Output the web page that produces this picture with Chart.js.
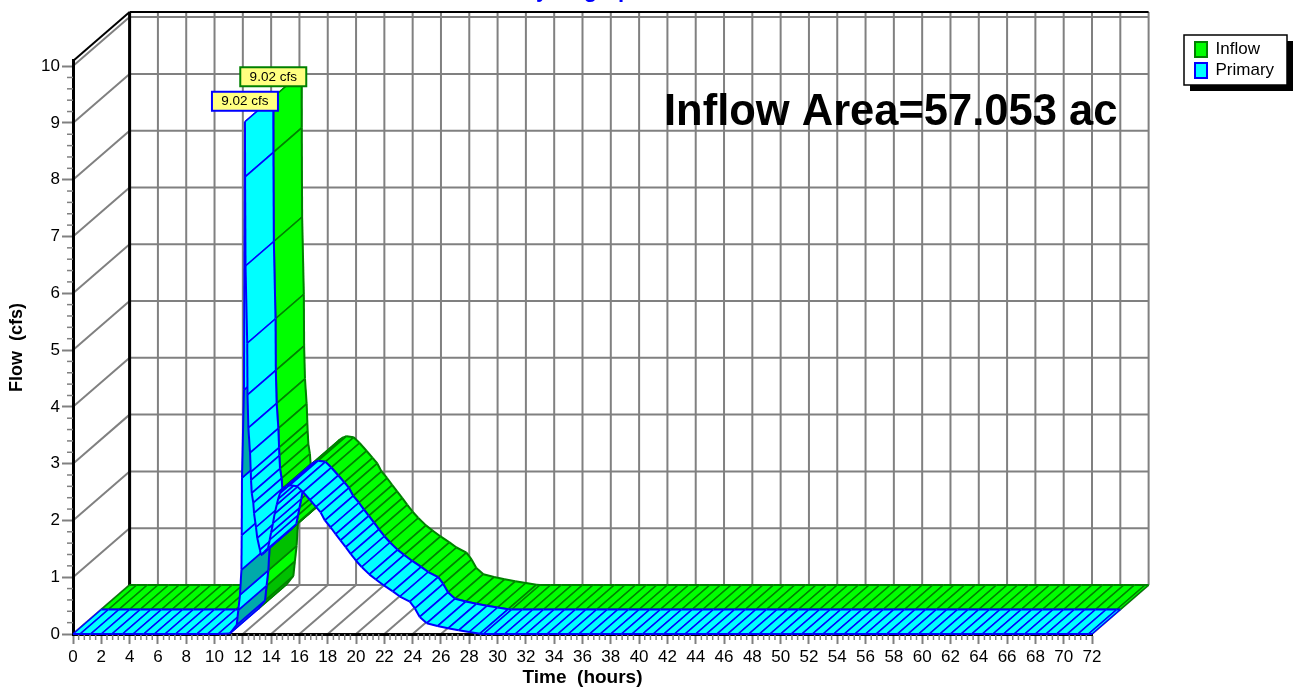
<!DOCTYPE html>
<html>
<head>
<meta charset="utf-8">
<title>Hydrograph</title>
<script src="https://cdn.jsdelivr.net/npm/chart.js@4/dist/chart.umd.js"></script>
<style>
  html, body { margin: 0; padding: 0; background: #fff; overflow: hidden; }
  canvas { display: block; }
</style>
</head>
<body>
<canvas id="hydrograph" width="1294" height="689"></canvas>
<script>
// one entry per hatch line along the ribbon
const timeHours = [
  0, 0.5, 1.25, 2, 2.75, 3.5, 4.25, 5, 5.75, 6.5, 7.25, 8, 8.75, 9.5, 10.25,
  11.09, 11.57, 11.68, 11.8, 11.9, 11.92, 11.94, 12.08, 12.15,
  12.16, 12.19, 12.31, 12.33, 12.39, 12.51, 12.56, 12.58, 12.63, 12.74, 12.79, 12.93, 13.02, 13.21, 13.28,
  13.4, 13.55, 13.78, 13.9, 14, 14.13, 14.25, 14.4, 14.5, 14.63, 14.85, 15.1, 15.33,
  15.83, 16.25, 16.75, 17.17, 17.5, 17.8, 18.2, 18.56, 18.9, 19.27, 19.62, 20, 20.4, 20.94, 21.4, 21.97, 22.6,
  23.1, 23.8, 24.16, 24.5, 25, 25.75, 26.5, 27.25, 28, 28.75,
  29, 29.75, 30.5, 31.25, 32, 32.75, 33.5, 34.25, 35, 35.75, 36.5, 37.25, 38, 38.75, 39.5, 40.25, 41, 41.75,
  42.5, 43.25, 44, 44.75, 45.5, 46.25, 47, 47.75, 48.5, 49.25, 50, 50.75, 51.5, 52.25, 53, 53.75, 54.5, 55.25,
  56, 56.75, 57.5, 58.25, 59, 59.75, 60.5, 61.25, 62, 62.75, 63.5, 64.25, 65, 65.75, 66.5, 67.25, 68, 68.75,
  69.5, 70.25, 71, 71.75, 72
];
const inflowFlow = [
  0, 0, 0, 0, 0, 0, 0, 0, 0, 0, 0, 0, 0, 0, 0,
  0.01, 0.16, 0.42, 0.69, 1.13, 1.74, 2.75, 4.3, 9.02,
  8.05, 6.48, 5.12, 4.21, 3.63, 3.19, 2.85, 2.71, 2.48, 2.31, 2.13, 1.88, 1.69, 1.48, 1.39,
  1.41, 1.45, 1.51, 1.66, 1.79, 1.95, 2.12, 2.28, 2.38, 2.48, 2.56, 2.6, 2.62,
  2.6, 2.5, 2.36, 2.24, 2.14, 2, 1.88, 1.76, 1.65, 1.53, 1.41, 1.29, 1.18, 1.05, 0.96, 0.855, 0.75,
  0.66, 0.57, 0.45, 0.3, 0.19, 0.14, 0.1, 0.065, 0.035, 0.005,
  0, 0, 0, 0, 0, 0, 0, 0, 0, 0, 0, 0, 0, 0, 0, 0, 0, 0,
  0, 0, 0, 0, 0, 0, 0, 0, 0, 0, 0, 0, 0, 0, 0, 0, 0, 0,
  0, 0, 0, 0, 0, 0, 0, 0, 0, 0, 0, 0, 0, 0, 0, 0, 0, 0,
  0, 0, 0, 0, 0
];
const primaryFlow = [
  0, 0, 0, 0, 0, 0, 0, 0, 0, 0, 0, 0, 0, 0, 0,
  0.01, 0.16, 0.42, 0.69, 1.13, 1.74, 2.75, 4.3, 9.02,
  8.05, 6.48, 5.12, 4.21, 3.63, 3.19, 2.85, 2.71, 2.48, 2.31, 2.13, 1.88, 1.69, 1.48, 1.39,
  1.41, 1.45, 1.51, 1.66, 1.79, 1.95, 2.12, 2.28, 2.38, 2.48, 2.56, 2.6, 2.62,
  2.6, 2.5, 2.36, 2.24, 2.14, 2, 1.88, 1.76, 1.65, 1.53, 1.41, 1.29, 1.18, 1.05, 0.96, 0.855, 0.75,
  0.66, 0.57, 0.45, 0.3, 0.19, 0.14, 0.1, 0.065, 0.035, 0.005,
  0, 0, 0, 0, 0, 0, 0, 0, 0, 0, 0, 0, 0, 0, 0, 0, 0, 0,
  0, 0, 0, 0, 0, 0, 0, 0, 0, 0, 0, 0, 0, 0, 0, 0, 0, 0,
  0, 0, 0, 0, 0, 0, 0, 0, 0, 0, 0, 0, 0, 0, 0, 0, 0, 0,
  0, 0, 0, 0, 0
];
// ribbon sections that start at these times are in the darker shade
const shadedTimes = [11.09, 11.57, 11.8, 11.94];
const seriesNames = ['Inflow', 'Primary'];
const areaLabel = 'Inflow Area=57.053 ac';

// a unit of depth moves a point this far along the scales
const DEPTH_HOURS = 2;
const DEPTH_FLOW = 0.4315;
const GREY = '#808080';

const ribbonStyles = [
  { depth: 1, fill: '#00ff00', dark: '#00c000', line: '#008000' },
  { depth: 0, fill: '#00ffff', dark: '#00aaaa', line: '#0000ff' }
];

function segment(ctx, x1, y1, x2, y2, color, width) {
  ctx.strokeStyle = color;
  ctx.lineWidth = width;
  ctx.beginPath();
  ctx.moveTo(x1, y1);
  ctx.lineTo(x2, y2);
  ctx.stroke();
}

function drawFlag(ctx, chart, text, t, q, depth, color) {
  const { x, y } = chart.scales;
  const cx = x.getPixelForValue(t + depth * DEPTH_HOURS);
  const cy = y.getPixelForValue(q + depth * DEPTH_FLOW) - 20.5;
  ctx.fillStyle = '#ffff80';
  ctx.strokeStyle = color;
  ctx.lineWidth = 2;
  ctx.fillRect(cx - 33, cy - 9.5, 66, 19);
  ctx.strokeRect(cx - 33, cy - 9.5, 66, 19);
  ctx.fillStyle = '#000';
  ctx.font = '13.5px "Liberation Sans"';
  ctx.textAlign = 'center';
  ctx.textBaseline = 'middle';
  ctx.fillText(text, cx, cy + 0.5);
}

const hydroPlugin = {
  id: 'hydro',
  afterLayout(chart) {
    // the key sits off to the right, clear of the plot
    const lg = chart.legend;
    const w = lg.right - lg.left;
    const h = lg.bottom - lg.top;
    lg.left = 1191;
    lg.right = lg.left + w;
    lg.top = 37;
    lg.bottom = lg.top + h;
    lg.adjustHitBoxes();
  },
  beforeDraw(chart) {
    const { ctx, scales: { x, y } } = chart;
    const backX = v => x.getPixelForValue(v + 2 * DEPTH_HOURS);
    const backY = v => y.getPixelForValue(v + 2 * DEPTH_FLOW);
    const top = y.max;
    ctx.save();

    // key frame with its drop shadow
    ctx.fillStyle = '#000';
    ctx.fillRect(1190, 41, 103, 50);
    ctx.fillStyle = '#fff';
    ctx.fillRect(1184, 35, 103, 50);
    ctx.strokeStyle = '#000';
    ctx.lineWidth = 1.5;
    ctx.strokeRect(1184, 35, 103, 50);

    // back wall and floor
    x.ticks.forEach(t => {
      segment(ctx, backX(t.value), backY(top), backX(t.value), backY(0), GREY, 2);
      segment(ctx, x.getPixelForValue(t.value), y.getPixelForValue(0), backX(t.value), backY(0), GREY, 2);
    });
    // side wall
    y.ticks.forEach(t => {
      segment(ctx, backX(0), backY(t.value), backX(72), backY(t.value), GREY, 2);
      segment(ctx, x.getPixelForValue(0), y.getPixelForValue(t.value), backX(0), backY(t.value), GREY, 2);
    });
    segment(ctx, backX(0), backY(top), backX(72), backY(top), '#000', 2);
    segment(ctx, x.getPixelForValue(0), y.getPixelForValue(top), backX(0), backY(top), '#000', 2);
    segment(ctx, backX(0), backY(top), backX(0), backY(0), '#000', 3);

    ctx.fillStyle = '#000';
    ctx.font = 'bold 43.5px "Liberation Sans"';
    ctx.textAlign = 'left';
    ctx.textBaseline = 'alphabetic';
    ctx.fillText(areaLabel, 664, 125);
    ctx.restore();
  },
  beforeDatasetsDraw(chart) {
    const { ctx, scales: { x, y } } = chart;
    ctx.save();

    // minor ticks
    const x0 = y.getPixelForValue(0);
    const left = x.getPixelForValue(0);
    for (let k = 0; k < 180; k++) {
      if (k % 5) {
        const px = x.getPixelForValue(k * 0.4);
        segment(ctx, px, x0, px, x0 + 6, GREY, 1.5);
      }
    }
    for (let k = 0; k < 50; k++) {
      if (k % 5) {
        const py = y.getPixelForValue(k * 0.2);
        segment(ctx, left, py, left - 6, py, GREY, 1.5);
      }
    }

    // ribbons, back one first and each from early to late so later faces cover earlier ones
    ctx.lineJoin = 'round';
    chart.data.datasets.forEach((ds, n) => {
      const st = ribbonStyles[n];
      const px = (p, d) => x.getPixelForValue(p.x + d * DEPTH_HOURS);
      const py = (p, d) => y.getPixelForValue(p.y + d * DEPTH_FLOW);
      const d0 = st.depth;
      const d1 = st.depth + 1;
      const pts = ds.data;
      for (let i = 0; i < pts.length - 1; i++) {
        const a = pts[i];
        const b = pts[i + 1];
        const color = shadedTimes.includes(a.x) ? st.dark : st.fill;
        ctx.fillStyle = color;
        ctx.strokeStyle = color;
        ctx.lineWidth = 0.5;
        ctx.beginPath();
        ctx.moveTo(px(a, d0), py(a, d0));
        ctx.lineTo(px(b, d0), py(b, d0));
        ctx.lineTo(px(b, d1), py(b, d1));
        ctx.lineTo(px(a, d1), py(a, d1));
        ctx.closePath();
        ctx.fill();
        ctx.stroke();
        segment(ctx, px(a, d0), py(a, d0), px(a, d1), py(a, d1), st.line, 1.6);
        segment(ctx, px(b, d0), py(b, d0), px(b, d1), py(b, d1), st.line, 1.6);
        segment(ctx, px(a, d0), py(a, d0), px(b, d0), py(b, d0), st.line, 2);
        segment(ctx, px(a, d1), py(a, d1), px(b, d1), py(b, d1), st.line, 2);
      }
    });
    ctx.restore();
  },
  afterDatasetsDraw(chart) {
    const { ctx } = chart;
    ctx.save();
    const peak = Math.max(...inflowFlow);
    const peakTime = timeHours[inflowFlow.indexOf(peak)];
    drawFlag(ctx, chart, peak.toFixed(2) + ' cfs', peakTime, peak, 1, '#008000');
    const peak2 = Math.max(...primaryFlow);
    drawFlag(ctx, chart, peak2.toFixed(2) + ' cfs', timeHours[primaryFlow.indexOf(peak2)], peak2, 0, '#0000ff');
    ctx.restore();
  }
};

Chart.defaults.font.family = '"Liberation Sans"';
Chart.defaults.color = '#000';

new Chart(document.getElementById('hydrograph'), {
  type: 'line',
  plugins: [hydroPlugin],
  data: {
    datasets: [
      {
        label: seriesNames[0],
        data: timeHours.map((t, i) => ({ x: t, y: inflowFlow[i] })),
        backgroundColor: '#00ff00',
        borderColor: '#008000',
        borderWidth: 2,
        showLine: false,
        pointRadius: 0
      },
      {
        label: seriesNames[1],
        data: timeHours.map((t, i) => ({ x: t, y: primaryFlow[i] })),
        backgroundColor: '#00ffff',
        borderColor: '#0000ff',
        borderWidth: 2,
        showLine: false,
        pointRadius: 0
      }
    ]
  },
  options: {
    responsive: false,
    animation: false,
    events: [],
    layout: { padding: { right: 112 } },
    plugins: {
      tooltip: { enabled: false },
      title: {
        display: true,
        text: 'Hydrograph',
        fullSize: false,
        color: '#0000ff',
        font: { size: 22, weight: 'bold' },
        padding: { top: -22.7, bottom: 57.3 }
      },
      legend: {
        position: 'right',
        align: 'start',
        maxWidth: 90,
        labels: {
          boxWidth: 12,
          boxHeight: 15,
          padding: 4,
          color: '#000',
          font: { size: 17 }
        }
      }
    },
    scales: {
      x: {
        type: 'linear',
        min: 0,
        max: 72,
        afterFit(scale) { scale.height = 55; },
        border: { color: '#000', width: 3 },
        grid: { drawOnChartArea: false, tickLength: 10, tickColor: GREY, tickWidth: 2 },
        ticks: { stepSize: 2, autoSkip: false, maxRotation: 0, padding: 3, font: { size: 17 } },
        title: {
          display: true,
          text: 'Time  (hours)',
          font: { size: 19, weight: 'bold' },
          padding: { top: 0, bottom: 0 }
        }
      },
      y: {
        min: 0,
        max: 10.09,
        afterFit(scale) { scale.width = 73; },
        border: { color: '#000', width: 3 },
        grid: { drawOnChartArea: false, tickLength: 11, tickColor: GREY, tickWidth: 2 },
        ticks: { stepSize: 1, includeBounds: false, padding: 2, font: { size: 17 } },
        title: {
          display: true,
          text: 'Flow  (cfs)',
          font: { size: 18, weight: 'bold' },
          padding: { top: 6, bottom: 0 }
        }
      }
    }
  }
});
</script>
</body>
</html>
